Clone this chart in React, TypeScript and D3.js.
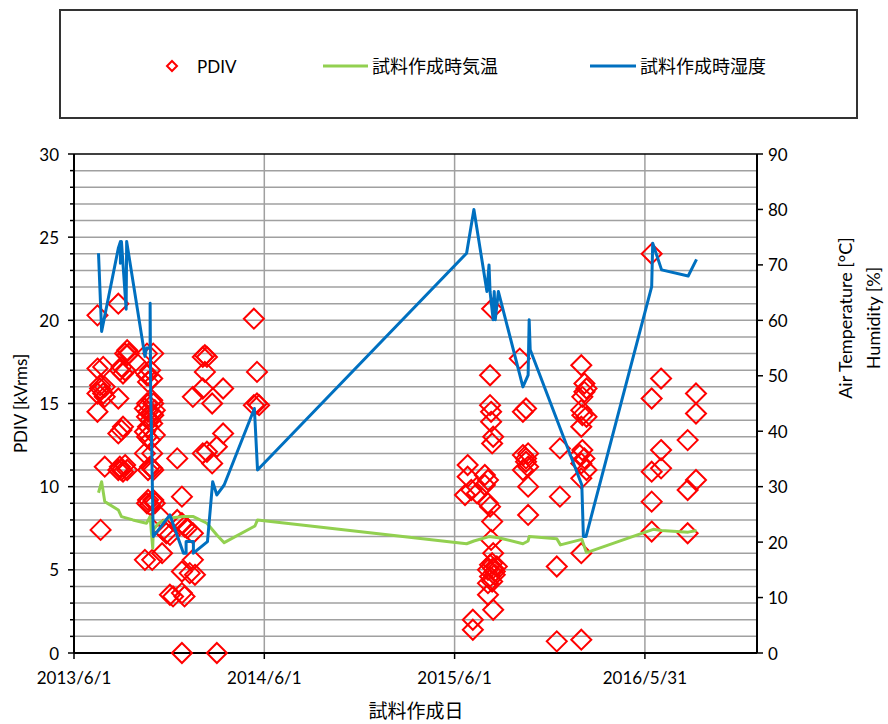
import React from 'react';
import * as d3 from 'd3';

// ---------- data ----------
const xTickLabels = ['2013/6/1', '2014/6/1', '2015/6/1', '2016/5/31'];
const pdivTicks = [0, 5, 10, 15, 20, 25, 30];
const rightTicks = [0, 10, 20, 30, 40, 50, 60, 70, 80, 90];

const pdivData: [string, number][] = [
  ['2013-07-16', 20.3], ['2013-07-16', 17.1], ['2013-07-16', 15.6], ['2013-07-16', 14.5],
  ['2013-07-21', 15.9], ['2013-07-21', 16.1], ['2013-07-22', 7.4],
  ['2013-07-27', 17.2], ['2013-07-27', 15.6],
  ['2013-07-30', 11.2], ['2013-07-30', 15.4], ['2013-07-30', 16.0],
  ['2013-08-25', 21.0], ['2013-08-25', 15.3], ['2013-08-25', 13.2], ['2013-08-25', 11.0],
  ['2013-08-28', 17.0], ['2013-08-28', 11.2],
  ['2013-08-31', 17.2], ['2013-08-31', 13.4], ['2013-08-31', 11.0],
  ['2013-09-03', 16.8], ['2013-09-03', 13.6], ['2013-09-03', 10.9],
  ['2013-09-07', 17.0], ['2013-09-07', 18.0], ['2013-09-07', 11.3],
  ['2013-09-11', 18.2], ['2013-09-11', 17.9], ['2013-09-11', 11.0],
  ['2013-09-14', 18.0],
  ['2013-10-15', 12.0], ['2013-10-15', 16.9], ['2013-10-15', 14.7], ['2013-10-15', 13.3], ['2013-10-15', 5.6],
  ['2013-10-19', 18.0], ['2013-10-19', 16.7], ['2013-10-19', 15.0], ['2013-10-19', 14.2], ['2013-10-19', 13.0], ['2013-10-19', 9.0],
  ['2013-10-21', 16.3], ['2013-10-21', 14.5], ['2013-10-21', 13.6], ['2013-10-21', 11.0], ['2013-10-21', 9.2],
  ['2013-10-25', 17.0], ['2013-10-25', 14.0], ['2013-10-25', 12.8], ['2013-10-25', 11.2], ['2013-10-25', 8.9],
  ['2013-10-29', 16.5], ['2013-10-29', 15.2], ['2013-10-29', 14.4], ['2013-10-29', 13.8], ['2013-10-29', 11.1], ['2013-10-29', 5.6], ['2013-10-29', 12.0],
  ['2013-10-31', 18.0], ['2013-10-31', 15.0], ['2013-10-31', 14.3], ['2013-10-31', 11.0], ['2013-10-31', 9.2],
  ['2013-11-03', 14.6], ['2013-11-03', 13.1], ['2013-11-03', 9.0],
  ['2013-11-13', 8.2], ['2013-11-17', 6.0], ['2013-11-19', 7.4], ['2013-11-25', 7.2],
  ['2013-12-02', 7.1], ['2013-12-02', 3.5], ['2013-12-08', 3.4],
  ['2013-12-16', 11.7], ['2013-12-16', 8.0],
  ['2013-12-25', 9.4], ['2013-12-25', 7.8], ['2013-12-25', 4.9], ['2013-12-25', 0], ['2013-12-25', 3.6],
  ['2013-12-30', 7.6], ['2013-12-30', 3.4],
  ['2014-01-04', 7.5], ['2014-01-09', 4.8],
  ['2014-01-15', 7.2], ['2014-01-15', 5.6], ['2014-01-15', 15.4],
  ['2014-01-19', 4.7],
  ['2014-02-03', 15.9], ['2014-02-03', 17.8], ['2014-02-03', 12.0],
  ['2014-02-07', 17.9], ['2014-02-07', 16.9],
  ['2014-02-11', 17.8], ['2014-02-11', 12.1],
  ['2014-02-21', 15.0], ['2014-02-21', 11.4],
  ['2014-03-02', 12.4], ['2014-03-02', 0],
  ['2014-03-14', 15.9], ['2014-03-14', 13.2],
  ['2014-05-12', 20.1], ['2014-05-12', 14.9],
  ['2014-05-18', 16.9], ['2014-05-18', 15.0],
  ['2014-05-22', 14.9],
  ['2015-06-21', 9.5],
  ['2015-06-26', 11.3], ['2015-06-26', 10.6],
  ['2015-07-03', 9.8],
  ['2015-07-06', 2.0], ['2015-07-06', 1.4],
  ['2015-07-14', 9.6],
  ['2015-07-29', 10.7], ['2015-07-29', 10.1],
  ['2015-08-04', 10.4], ['2015-08-04', 9.0], ['2015-08-04', 5.0], ['2015-08-04', 4.2], ['2015-08-04', 3.5],
  ['2015-08-08', 16.7], ['2015-08-08', 14.9], ['2015-08-08', 8.8], ['2015-08-08', 5.3], ['2015-08-08', 4.6],
  ['2015-08-10', 14.5], ['2015-08-10', 13.9], ['2015-08-10', 6.8],
  ['2015-08-12', 20.7], ['2015-08-12', 12.6], ['2015-08-12', 7.9], ['2015-08-12', 5.4], ['2015-08-12', 4.3],
  ['2015-08-14', 13.0], ['2015-08-14', 6.0], ['2015-08-14', 2.6], ['2015-08-14', 5.1],
  ['2015-08-17', 4.9], ['2015-08-17', 4.7],
  ['2015-08-21', 5.2],
  ['2015-10-04', 17.7],
  ['2015-10-10', 14.5], ['2015-10-10', 11.9], ['2015-10-10', 11.0],
  ['2015-10-16', 14.7], ['2015-10-16', 11.7], ['2015-10-16', 11.5],
  ['2015-10-20', 11.2], ['2015-10-20', 10.0], ['2015-10-20', 8.3], ['2015-10-20', 12.0],
  ['2015-12-14', 5.2], ['2015-12-14', 0.7],
  ['2015-12-20', 12.3], ['2015-12-20', 9.4],
  ['2016-01-27', 11.9],
  ['2016-01-30', 17.3], ['2016-01-30', 14.6], ['2016-01-30', 13.6], ['2016-01-30', 11.4], ['2016-01-30', 10.5], ['2016-01-30', 6.0], ['2016-01-30', 0.8],
  ['2016-02-01', 15.4], ['2016-02-01', 12.2], ['2016-02-01', 14.3],
  ['2016-02-05', 16.2], ['2016-02-05', 15.7], ['2016-02-05', 11.7],
  ['2016-02-09', 15.9], ['2016-02-09', 14.2], ['2016-02-09', 11.0],
  ['2016-06-13', 24.0], ['2016-06-13', 15.3], ['2016-06-13', 10.9], ['2016-06-13', 9.1], ['2016-06-13', 7.3],
  ['2016-07-01', 16.5], ['2016-07-01', 12.2], ['2016-07-01', 11.1],
  ['2016-08-21', 12.8], ['2016-08-21', 9.8], ['2016-08-21', 7.2],
  ['2016-09-06', 15.6], ['2016-09-06', 14.4], ['2016-09-06', 10.4],
];

const temperature: [string, number][] = [
  ['2013-07-18', 28.9], ['2013-07-24', 30.9], ['2013-07-30', 27.3], ['2013-08-25', 25.8],
  ['2013-08-31', 24.6], ['2013-09-22', 24.0], ['2013-10-18', 23.4], ['2013-10-25', 24.6],
  ['2013-10-30', 18.9], ['2013-10-31', 22.2], ['2013-11-10', 23.4], ['2013-11-29', 24.3],
  ['2013-12-28', 24.6], ['2014-01-16', 24.6], ['2014-02-11', 23.4], ['2014-03-02', 21.3],
  ['2014-03-16', 19.9], ['2014-05-14', 22.9], ['2014-05-19', 24.0],
  ['2015-06-24', 19.7], ['2015-07-08', 20.2], ['2015-08-06', 21.0], ['2015-08-24', 20.8],
  ['2015-10-10', 19.7], ['2015-10-20', 20.2], ['2015-10-22', 21.0], ['2015-12-14', 20.6],
  ['2015-12-21', 19.5], ['2016-01-31', 20.5], ['2016-02-09', 18.1], ['2016-06-16', 22.3],
  ['2016-07-02', 22.1], ['2016-08-22', 21.8], ['2016-09-07', 22.1],
];

const humidity: [string, number][] = [
  ['2013-07-18', 72.1], ['2013-07-24', 58.0], ['2013-08-25', 73.0], ['2013-08-29', 74.2],
  ['2013-08-29', 70.3], ['2013-08-31', 74.2], ['2013-09-09', 62.0], ['2013-09-10', 74.2],
  ['2013-10-15', 53.5], ['2013-10-18', 55.0], ['2013-10-25', 55.0], ['2013-10-25', 63.1],
  ['2013-10-26', 48.0], ['2013-10-31', 21.0], ['2013-12-02', 24.9], ['2013-12-28', 18.0],
  ['2014-01-02', 18.0], ['2014-01-02', 20.1], ['2014-01-16', 20.1], ['2014-01-16', 18.0],
  ['2014-02-12', 20.1], ['2014-02-22', 30.9], ['2014-03-02', 28.5], ['2014-03-16', 30.3],
  ['2014-05-13', 44.1], ['2014-05-19', 33.0],
  ['2015-06-24', 72.1], ['2015-07-08', 80.0], ['2015-08-02', 65.2], ['2015-08-06', 70.0],
  ['2015-08-08', 65.2], ['2015-08-14', 60.1], ['2015-08-16', 65.2], ['2015-08-18', 60.1],
  ['2015-08-24', 65.2], ['2015-10-10', 48.0], ['2015-10-20', 50.1], ['2015-10-22', 60.1],
  ['2015-10-24', 54.7], ['2016-01-31', 30.3], ['2016-02-03', 21.0], ['2016-02-08', 21.0],
  ['2016-06-13', 66.1], ['2016-06-15', 73.9], ['2016-07-02', 69.1], ['2016-08-22', 68.0],
  ['2016-09-07', 71.0],
];

const legendLabels = ['PDIV', '試料作成時気温', '試料作成時湿度'];

// ---------- layout ----------
const W = 888, H = 724;
const L = 74, R = 757, T = 154, B = 653;
const FONT = "Lato, 'Noto Sans CJK JP', sans-serif";
const RED = '#FF0000', GREEN = '#92D050', BLUE = '#0070C0', GRID = '#a0a0a0';

const parse = d3.timeParse('%Y-%m-%d');
const parseTick = d3.timeParse('%Y/%m/%d');

const x = d3.scaleTime().domain([new Date(2013, 5, 1), new Date(2017, 0, 1)]).range([L, R]);
const yL = d3.scaleLinear().domain([0, 30]).range([B, T]);
const yR = d3.scaleLinear().domain([0, 90]).range([B, T]);

const diamond = (cx: number, cy: number, r: number) =>
  `M${cx},${cy - r}L${cx + r},${cy}L${cx},${cy + r}L${cx - r},${cy}Z`;

export default function App() {
  const tLine = d3.line<[string, number]>().x(d => x(parse(d[0])!)).y(d => yR(d[1]));
  const minor = d3.range(0, 31);
  return (
    <svg width={W} height={H} style={{ position: 'absolute', left: 0, top: 0, background: '#fff' }} fontFamily={FONT}>
      <rect x={0} y={0} width={W} height={H} fill="#fff" />
      {/* legend */}
      <rect x={60} y={10} width={797} height={108} fill="#fff" stroke="#333" strokeWidth={2} />
      <path d={diamond(172, 66, 5)} fill="none" stroke={RED} strokeWidth={2} />
      <text x={197} y={66} dominantBaseline="central" fontSize={17}>{legendLabels[0]}</text>
      <line x1={323} x2={368} y1={66} y2={66} stroke={GREEN} strokeWidth={3} />
      <text x={372} y={66} dominantBaseline="central" fontSize={18}>{legendLabels[1]}</text>
      <line x1={590} x2={636} y1={66} y2={66} stroke={BLUE} strokeWidth={3} />
      <text x={640} y={66} dominantBaseline="central" fontSize={18}>{legendLabels[2]}</text>

      {/* horizontal gridlines + left ticks */}
      {minor.map(v => (
        <g key={'g' + v}>
          {v > 0 && v < 30 && <line x1={L} x2={R} y1={yL(v)} y2={yL(v)} stroke={GRID} strokeWidth={1.5} />}
          <line x1={v % 5 === 0 ? L - 6 : L - 4} x2={L} y1={yL(v)} y2={yL(v)} stroke="#000" strokeWidth={1.5} />
        </g>
      ))}
      {/* vertical gridlines */}
      {xTickLabels.map(t => {
        const xx = x(parseTick(t)!);
        return (
          <g key={t}>
            {xx > L + 1 && <line x1={xx} x2={xx} y1={T} y2={B} stroke={GRID} strokeWidth={1.5} />}
            <line x1={xx} x2={xx} y1={B} y2={B + 6} stroke="#000" strokeWidth={1.5} />
            <text x={xx} y={684} textAnchor="middle" fontSize={17}>{t}</text>
          </g>
        );
      })}
      {/* axes frame */}
      <line x1={L} x2={R} y1={T} y2={T} stroke="#000" strokeWidth={1.5} />
      <line x1={L} x2={R} y1={B} y2={B} stroke="#000" strokeWidth={2} />
      <line x1={L} x2={L} y1={T} y2={B} stroke="#000" strokeWidth={2} />
      <line x1={R} x2={R} y1={T} y2={B} stroke="#000" strokeWidth={2} />
      {pdivTicks.map(v => (
        <text key={'l' + v} x={59} y={yL(v)} textAnchor="end" dominantBaseline="central" fontSize={17}>{v}</text>
      ))}
      {rightTicks.map(v => (
        <g key={'r' + v}>
          <line x1={R} x2={R + 6} y1={yR(v)} y2={yR(v)} stroke="#000" strokeWidth={1.5} />
          <text x={768} y={yR(v)} dominantBaseline="central" fontSize={17}>{v}</text>
        </g>
      ))}

      {/* PDIV scatter */}
      {pdivData.map((d, i) => (
        <path key={'p' + i} d={diamond(x(parse(d[0])!), yL(d[1]), 10)} fill="none" stroke={RED} strokeWidth={2} />
      ))}
      {/* lines */}
      <path d={tLine(temperature) || ''} fill="none" stroke={GREEN} strokeWidth={3} strokeLinejoin="round" />
      <path d={tLine(humidity) || ''} fill="none" stroke={BLUE} strokeWidth={3} strokeLinejoin="round" />

      {/* axis titles */}
      <text transform={`translate(20,${(T + B) / 2}) rotate(-90)`} textAnchor="middle" dominantBaseline="central" fontSize={17}>PDIV [kVrms]</text>
      <text transform="translate(845,318) rotate(-90)" textAnchor="middle" dominantBaseline="central" fontSize={18}>Air Temperature [°C]</text>
      <text transform="translate(873,318) rotate(-90)" textAnchor="middle" dominantBaseline="central" fontSize={18}>Humidity [%]</text>
      <text x={416} y={710} textAnchor="middle" dominantBaseline="central" fontSize={19}>試料作成日</text>
    </svg>
  );
}
